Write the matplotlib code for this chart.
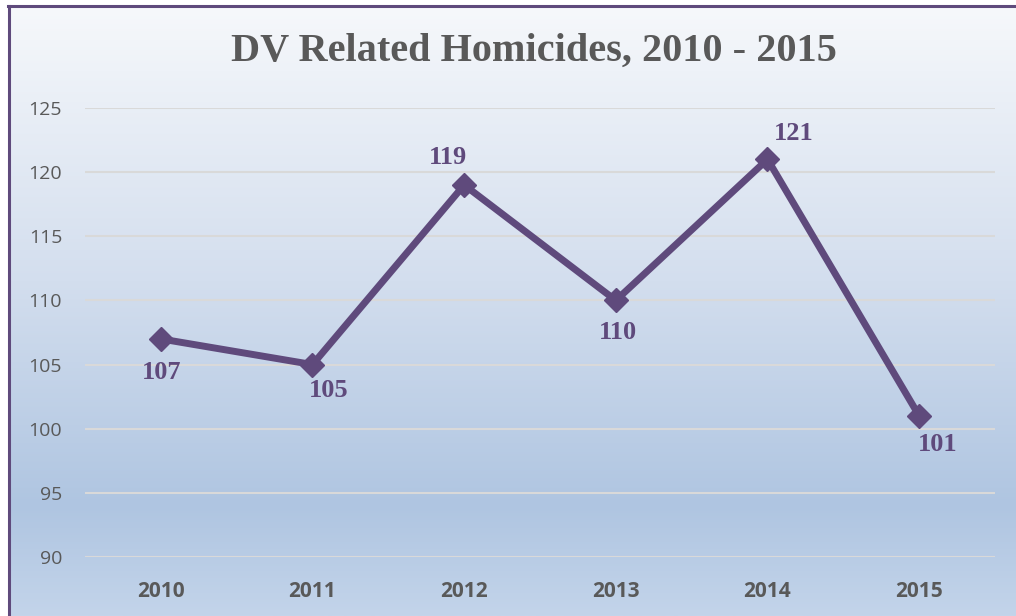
import matplotlib.pyplot as plt
import numpy as np
from matplotlib.colors import LinearSegmentedColormap
from matplotlib.lines import Line2D

years = ["2010", "2011", "2012", "2013", "2014", "2015"]
homicides = [107, 105, 119, 110, 121, 101]

# label offsets (pixels) for each data label, as placed in the original
label_offsets = [(1, -34), (16, -26), (-16, 27), (2, -32), (26, 26), (19, -29)]

W, H = 1016, 616
fig = plt.figure(figsize=(W / 100, H / 100), dpi=100)
fig.patch.set_facecolor("white")

# === gradient background inside the frame ===
bg = fig.add_axes([10 / W, 0, 1 - 10 / W, (H - 7) / H], zorder=0)
cmap = LinearSegmentedColormap.from_list(
    "bg", [(0, "#F6F8FB"), (0.45, "#D3DEEE"), (0.82, "#AFC5E1"), (1, "#C3D4EA")])
grad = np.linspace(0, 1, 256).reshape(-1, 1)
bg.imshow(grad, aspect="auto", cmap=cmap, extent=[0, 1, 0, 1], origin="upper")
bg.set_axis_off()

# frame lines (left and top)
purple = "#5F4A7C"
fig.add_artist(Line2D([9 / W, 9 / W], [0, (H - 6) / H], color=purple, lw=2.2))
fig.add_artist(Line2D([8 / W, 1], [(H - 6) / H, (H - 6) / H], color=purple, lw=2.2))

# === main plot ===
ax = fig.add_axes([85 / W, 59 / H, 910 / W, 449 / H], zorder=1)
ax.patch.set_alpha(0)
x = np.arange(len(years))
ax.plot(x, homicides, color=purple, lw=5, marker="D", markersize=12,
        solid_joinstyle="miter", zorder=3)

for xi, v, (dx, dy) in zip(x, homicides, label_offsets):
    ax.annotate(str(v), (xi, v), xytext=(dx * 0.72, dy * 0.72), textcoords="offset points",
                ha="center", va="center", fontsize=19, fontweight="bold",
                family="Liberation Serif", color=purple, zorder=4)

ax.set_xlim(-0.5, len(years) - 0.5)
ax.set_ylim(90, 125)
ax.set_yticks(range(90, 126, 5))
ax.set_xticks(x)
ax.set_xticklabels(years, fontweight="bold")
for lbl in ax.get_xticklabels() + ax.get_yticklabels():
    lbl.set_family("Open Sans")
    lbl.set_color("#595959")
for lbl in ax.get_yticklabels():
    lbl.set_fontsize(14)
for lbl in ax.get_xticklabels():
    lbl.set_fontsize(15)
ax.tick_params(length=0)
ax.tick_params(axis="y", pad=16.5)
ax.tick_params(axis="x", pad=17)
ax.grid(axis="y", color="#D9D9D9", lw=1.5)
ax.set_axisbelow(True)
for s in ax.spines.values():
    s.set_visible(False)

fig.text(534 / W, (H - 51) / H, "DV Related Homicides, 2010 - 2015", ha="center", va="center",
         fontsize=29, fontweight="bold", family="Liberation Serif", color="#595959")

fig.savefig("out.png", dpi=100)
